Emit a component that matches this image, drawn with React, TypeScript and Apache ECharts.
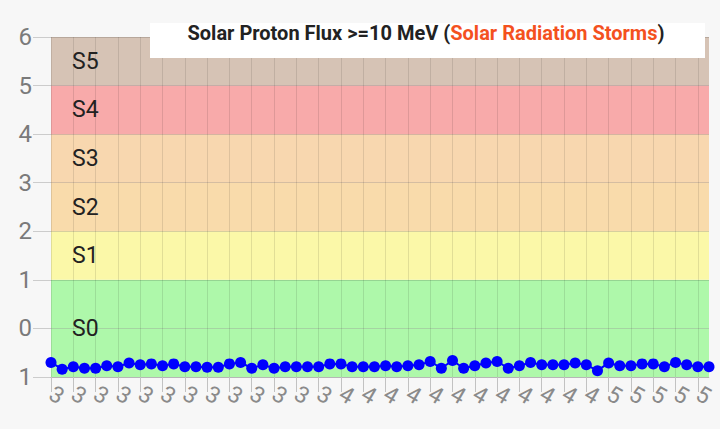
import * as echarts from 'echarts';
import { useEffect, useRef } from 'react';

// x categories (only the first digit of each time label shows in the reference)
const categories = [
    '3', '3', '3', '3', '3', '3', '3', '3', '3', '3', '3', '3', '3', '3', '3', '3', '3', '3', '3', '3', '3', '3', '3', '3', '3', '3',
    '4', '4', '4', '4', '4', '4', '4', '4', '4', '4', '4', '4', '4', '4', '4', '4', '4', '4', '4', '4', '4', '4', '4', '4',
    '5', '5', '5', '5', '5', '5', '5', '5', '5', '5'
];

const fluxValues = [
    -0.70, -0.84, -0.79, -0.82, -0.82, -0.77, -0.79, -0.71, -0.75, -0.73,
    -0.77, -0.73, -0.79, -0.79, -0.80, -0.80, -0.73, -0.70, -0.82, -0.75,
    -0.82, -0.79, -0.79, -0.79, -0.79, -0.73, -0.73, -0.79, -0.79, -0.79,
    -0.77, -0.79, -0.77, -0.75, -0.68, -0.82, -0.66, -0.82, -0.77, -0.71,
    -0.68, -0.82, -0.77, -0.70, -0.75, -0.75, -0.75, -0.71, -0.75, -0.87,
    -0.71, -0.77, -0.77, -0.73, -0.73, -0.79, -0.70, -0.75, -0.79, -0.79
];

// storm scale bands
const bandNames = ['S0', 'S1', 'S2', 'S3', 'S4', 'S5'];
const bandFrom = [-1, 1, 2, 3, 4, 5];
const bandTo = [1, 2, 3, 4, 5, 6];
const bandColors = ['#aef8aa', '#fbf8a8', '#f9dbab', '#f8d7af', '#f8aaaa', '#d6c3b5'];

const yMin = -1;
const yMax = 6;

const App = () => {
    const divRef = useRef<HTMLDivElement>(null);

    useEffect(() => {
        const myChart = echarts.init(divRef.current!, null, { renderer: 'svg' });

        // one colour per unit step of the y axis, taken from the band it falls in
        const areaColors: string[] = [];
        for (let v = yMin; v < yMax; v++) {
            const i = bandFrom.findIndex((f, k) => v >= f && v < bandTo[k]);
            areaColors.push(bandColors[i]);
        }

        myChart.setOption({
            animation: false,
            backgroundColor: '#f7f7f7',
            textStyle: { fontFamily: 'Roboto' },
            grid: { left: 51, right: 11, top: 37, bottom: 52 },
            graphic: [
                {
                    type: 'rect',
                    z: 100,
                    shape: { x: 150, y: 23, width: 555, height: 35 },
                    style: { fill: '#ffffff' }
                },
                {
                    type: 'text',
                    z: 101,
                    x: 426,
                    y: 33,
                    style: {
                        text: '{a|Solar Proton Flux >=10 MeV (}{b|Solar Radiation Storms}{a|)}',
                        align: 'center',
                        verticalAlign: 'middle',
                        rich: {
                            a: { fontSize: 20, fontWeight: 'bold', fill: '#222', fontFamily: 'Roboto' },
                            b: { fontSize: 20, fontWeight: 'bold', fill: '#f4511e', fontFamily: 'Roboto' }
                        }
                    }
                }
            ],
            xAxis: {
                type: 'category',
                data: categories,
                boundaryGap: false,
                z: 1,
                axisLine: { show: true, onZero: false, lineStyle: { color: 'rgba(0,0,0,0.14)', width: 1 } },
                axisTick: { show: true, interval: 1, length: 15, lineStyle: { color: '#c2c2c2' } },
                axisLabel: { interval: 1, rotate: -30, margin: 15, fontSize: 23, color: '#8a8a8a' },
                splitLine: { show: true, interval: 1, lineStyle: { color: 'rgba(0,0,0,0.1)' } }
            },
            yAxis: {
                type: 'value',
                min: yMin,
                max: yMax,
                interval: 1,
                z: 0,
                axisLine: { show: false },
                axisTick: { show: true, length: 18, lineStyle: { color: '#cccccc' } },
                axisLabel: {
                    fontSize: 24,
                    color: '#7a7a7a',
                    margin: 19,
                    formatter: (v: number) => String(Math.abs(v))
                },
                splitArea: { show: true, areaStyle: { color: areaColors, opacity: 1 } },
                splitLine: { show: true, lineStyle: { color: 'rgba(0,0,0,0.14)' } }
            },
            series: [
                {
                    type: 'line',
                    data: fluxValues,
                    symbol: 'circle',
                    symbolSize: 11,
                    showAllSymbol: true,
                    itemStyle: { color: '#0000ff' },
                    lineStyle: { color: '#0000ff', width: 2 },
                    markArea: {
                        silent: true,
                        itemStyle: { color: 'rgba(0,0,0,0)' },
                        label: {
                            position: 'insideLeft',
                            distance: 21,
                            fontSize: 23,
                            color: '#222'
                        },
                        data: bandNames.map((name, i) => [
                            { name, xAxis: 'min', yAxis: bandFrom[i] },
                            { xAxis: 'max', yAxis: bandTo[i] }
                        ])
                    }
                }
            ]
        });

        return () => {
            myChart.dispose();
        };
    }, []);

    return (
        <div
            ref={divRef}
            style={{ position: 'fixed', left: 0, top: 0, width: '720px', height: '429px' }}
        ></div>
    );
};

export default App;
